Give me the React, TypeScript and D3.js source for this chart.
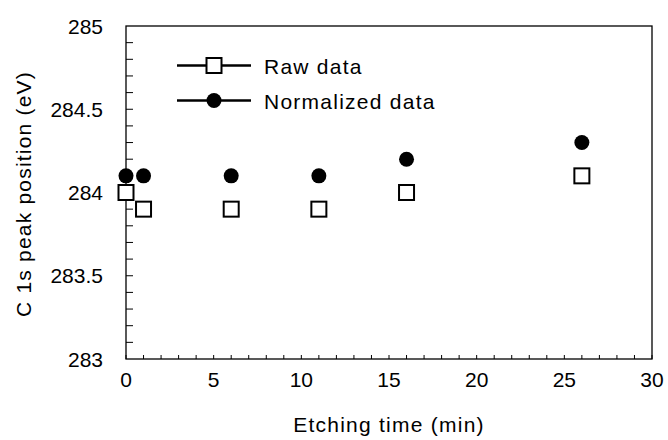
import React, { useEffect, useRef } from 'react';
import * as d3 from 'd3';

const etchTimes = [0, 1, 6, 11, 16, 26];
const rawData = [284.0, 283.9, 283.9, 283.9, 284.0, 284.1];
const normalizedData = [284.1, 284.1, 284.1, 284.1, 284.2, 284.3];
const xTicks = [0, 5, 10, 15, 20, 25, 30];
const yTicks = [283, 283.5, 284, 284.5, 285];
const legendLabels = ['Raw data', 'Normalized data'];

const FONT = '"Liberation Sans", Arial, sans-serif';

export default function App() {
  const svgRef = useRef<SVGSVGElement>(null);

  useEffect(() => {
    const svg = d3.select(svgRef.current);
    svg.selectAll('*').remove();

    const margin = { top: 26, right: 16, bottom: 81, left: 126 };
    const W = 668, H = 440;
    const w = W - margin.left - margin.right;
    const h = H - margin.top - margin.bottom;

    const g = svg.append('g').attr('transform', `translate(${margin.left},${margin.top})`);

    const x = d3.scaleLinear().domain([0, 30]).range([0, w]);
    const y = d3.scaleLinear().domain([283, 285]).range([h, 0]);

    // frame
    g.append('rect')
      .attr('width', w).attr('height', h)
      .attr('fill', 'none').attr('stroke', '#000').attr('stroke-width', 1.3);

    // minor ticks, inside
    g.selectAll('.xt').data(d3.range(0, 31)).join('line')
      .attr('x1', d => x(d)).attr('x2', d => x(d))
      .attr('y1', h).attr('y2', h - 4)
      .attr('stroke', '#000').attr('stroke-width', 1);
    g.selectAll('.yt').data(d3.range(1, 20).map(i => 283 + i * 0.1)).join('line')
      .attr('x1', 0).attr('x2', 7)
      .attr('y1', d => y(d)).attr('y2', d => y(d))
      .attr('stroke', '#000').attr('stroke-width', 1);

    // tick labels
    g.selectAll('.xl').data(xTicks).join('text')
      .attr('x', d => x(d)).attr('y', h + 28)
      .attr('text-anchor', 'middle')
      .attr('font-family', FONT).attr('font-size', 21)
      .text(d => d);
    g.selectAll('.yl').data(yTicks).join('text')
      .attr('x', -23).attr('y', d => y(d) + 7.5)
      .attr('text-anchor', 'end')
      .attr('font-family', FONT).attr('font-size', 21)
      .text(d => d);

    // axis titles
    svg.append('text')
      .attr('x', margin.left + w / 2).attr('y', 432)
      .attr('text-anchor', 'middle')
      .attr('font-family', FONT).attr('font-size', 21)
      .attr('letter-spacing', 1.25)
      .text('Etching time (min)');
    svg.append('text')
      .attr('transform', `translate(31,194) rotate(-90)`)
      .attr('text-anchor', 'middle')
      .attr('font-family', FONT).attr('font-size', 21)
      .attr('letter-spacing', 1.2)
      .text('C 1s peak position (eV)');

    // markers
    g.selectAll('.norm').data(etchTimes).join('circle')
      .attr('cx', d => x(d)).attr('cy', (d, i) => y(normalizedData[i]))
      .attr('r', 7.5).attr('fill', '#000');
    g.selectAll('.raw').data(etchTimes).join('rect')
      .attr('x', d => x(d) - 7.5).attr('y', (d, i) => y(rawData[i]) - 7.5)
      .attr('width', 15).attr('height', 15)
      .attr('fill', '#fff').attr('stroke', '#000').attr('stroke-width', 2);

    // legend
    const lg = svg.append('g');
    legendLabels.forEach((label, i) => {
      const ly = 65.5 + i * 35;
      lg.append('line')
        .attr('x1', 177).attr('x2', 251).attr('y1', ly).attr('y2', ly)
        .attr('stroke', '#000').attr('stroke-width', 2.5);
      if (i === 0) {
        lg.append('rect')
          .attr('x', 214 - 7.5).attr('y', ly - 7.5).attr('width', 15).attr('height', 15)
          .attr('fill', '#fff').attr('stroke', '#000').attr('stroke-width', 2);
      } else {
        lg.append('circle').attr('cx', 214).attr('cy', ly).attr('r', 7.5).attr('fill', '#000');
      }
      lg.append('text')
        .attr('x', 264).attr('y', ly + 8)
        .attr('font-family', FONT).attr('font-size', 21)
        .attr('letter-spacing', 1.25)
        .text(label);
    });
  }, []);

  return (
    <svg ref={svgRef} width={668} height={440}
      style={{ position: 'absolute', left: 0, top: 0, background: '#fff' }} />
  );
}
